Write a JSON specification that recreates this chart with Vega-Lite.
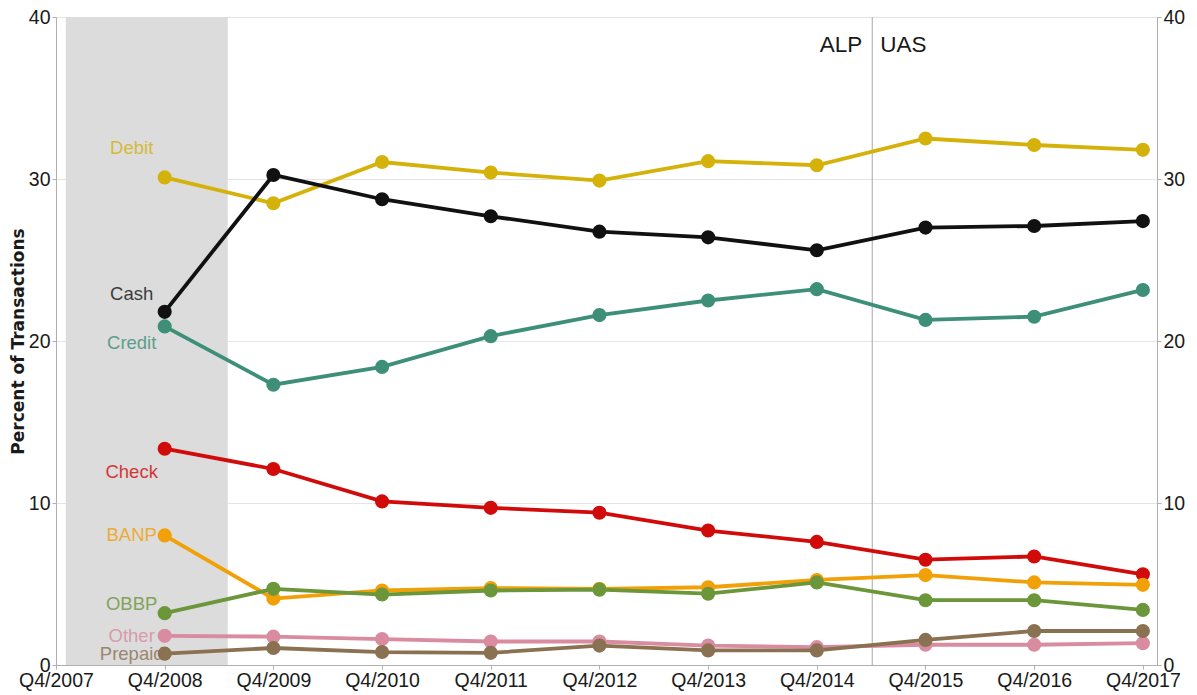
{
  "$schema": "https://vega.github.io/schema/vega-lite/v6.json",
  "width": 1101,
  "height": 648,
  "autosize": {"type": "none"},
  "padding": {"left": 56, "top": 17, "right": 40, "bottom": 30},
  "background": "white",
  "config": {
    "font": "Liberation Sans",
    "view": {"stroke": "#b8b8b8", "strokeWidth": 1},
    "axis": {
      "domainColor": "#b0b0b0",
      "tickColor": "#b0b0b0",
      "tickSize": 4,
      "labelFontSize": 19.5,
      "labelColor": "#1a1a1a",
      "labelPadding": 2,
      "gridColor": "#e4e4e4"
    }
  },
  "datasets": {
    "series": [
      {"year": 2008, "series": "Debit", "value": 30.1},
      {"year": 2009, "series": "Debit", "value": 28.5},
      {"year": 2010, "series": "Debit", "value": 31.05},
      {"year": 2011, "series": "Debit", "value": 30.4},
      {"year": 2012, "series": "Debit", "value": 29.9},
      {"year": 2013, "series": "Debit", "value": 31.1},
      {"year": 2014, "series": "Debit", "value": 30.85},
      {"year": 2015, "series": "Debit", "value": 32.5},
      {"year": 2016, "series": "Debit", "value": 32.1},
      {"year": 2017, "series": "Debit", "value": 31.8},
      {"year": 2008, "series": "Cash", "value": 21.8},
      {"year": 2009, "series": "Cash", "value": 30.25},
      {"year": 2010, "series": "Cash", "value": 28.75},
      {"year": 2011, "series": "Cash", "value": 27.7},
      {"year": 2012, "series": "Cash", "value": 26.75},
      {"year": 2013, "series": "Cash", "value": 26.4},
      {"year": 2014, "series": "Cash", "value": 25.6},
      {"year": 2015, "series": "Cash", "value": 27.0},
      {"year": 2016, "series": "Cash", "value": 27.1},
      {"year": 2017, "series": "Cash", "value": 27.4},
      {"year": 2008, "series": "Credit", "value": 20.9},
      {"year": 2009, "series": "Credit", "value": 17.3},
      {"year": 2010, "series": "Credit", "value": 18.4},
      {"year": 2011, "series": "Credit", "value": 20.3},
      {"year": 2012, "series": "Credit", "value": 21.6},
      {"year": 2013, "series": "Credit", "value": 22.5},
      {"year": 2014, "series": "Credit", "value": 23.2},
      {"year": 2015, "series": "Credit", "value": 21.3},
      {"year": 2016, "series": "Credit", "value": 21.5},
      {"year": 2017, "series": "Credit", "value": 23.15},
      {"year": 2008, "series": "Check", "value": 13.35},
      {"year": 2009, "series": "Check", "value": 12.1},
      {"year": 2010, "series": "Check", "value": 10.1},
      {"year": 2011, "series": "Check", "value": 9.7},
      {"year": 2012, "series": "Check", "value": 9.4},
      {"year": 2013, "series": "Check", "value": 8.3},
      {"year": 2014, "series": "Check", "value": 7.6},
      {"year": 2015, "series": "Check", "value": 6.5},
      {"year": 2016, "series": "Check", "value": 6.7},
      {"year": 2017, "series": "Check", "value": 5.6},
      {"year": 2008, "series": "BANP", "value": 8.0},
      {"year": 2009, "series": "BANP", "value": 4.1},
      {"year": 2010, "series": "BANP", "value": 4.6},
      {"year": 2011, "series": "BANP", "value": 4.75},
      {"year": 2012, "series": "BANP", "value": 4.7},
      {"year": 2013, "series": "BANP", "value": 4.8},
      {"year": 2014, "series": "BANP", "value": 5.25},
      {"year": 2015, "series": "BANP", "value": 5.55},
      {"year": 2016, "series": "BANP", "value": 5.1},
      {"year": 2017, "series": "BANP", "value": 4.95},
      {"year": 2008, "series": "OBBP", "value": 3.2},
      {"year": 2009, "series": "OBBP", "value": 4.7},
      {"year": 2010, "series": "OBBP", "value": 4.35},
      {"year": 2011, "series": "OBBP", "value": 4.6},
      {"year": 2012, "series": "OBBP", "value": 4.65},
      {"year": 2013, "series": "OBBP", "value": 4.4},
      {"year": 2014, "series": "OBBP", "value": 5.1},
      {"year": 2015, "series": "OBBP", "value": 4.0},
      {"year": 2016, "series": "OBBP", "value": 4.0},
      {"year": 2017, "series": "OBBP", "value": 3.4},
      {"year": 2008, "series": "Other", "value": 1.8},
      {"year": 2009, "series": "Other", "value": 1.75},
      {"year": 2010, "series": "Other", "value": 1.6},
      {"year": 2011, "series": "Other", "value": 1.45},
      {"year": 2012, "series": "Other", "value": 1.45},
      {"year": 2013, "series": "Other", "value": 1.2},
      {"year": 2014, "series": "Other", "value": 1.1},
      {"year": 2015, "series": "Other", "value": 1.25},
      {"year": 2016, "series": "Other", "value": 1.25},
      {"year": 2017, "series": "Other", "value": 1.35},
      {"year": 2008, "series": "Prepaid", "value": 0.7},
      {"year": 2009, "series": "Prepaid", "value": 1.05},
      {"year": 2010, "series": "Prepaid", "value": 0.8},
      {"year": 2011, "series": "Prepaid", "value": 0.75},
      {"year": 2012, "series": "Prepaid", "value": 1.2},
      {"year": 2013, "series": "Prepaid", "value": 0.9},
      {"year": 2014, "series": "Prepaid", "value": 0.9},
      {"year": 2015, "series": "Prepaid", "value": 1.55},
      {"year": 2016, "series": "Prepaid", "value": 2.1},
      {"year": 2017, "series": "Prepaid", "value": 2.1}
    ],
    "labels": [
      {"series": "Debit", "year": 2008, "pos": 31.9},
      {"series": "Cash", "year": 2008, "pos": 22.9},
      {"series": "Credit", "year": 2008, "pos": 19.9},
      {"series": "Check", "year": 2008, "pos": 11.9},
      {"series": "BANP", "year": 2008, "pos": 8.0},
      {"series": "OBBP", "year": 2008, "pos": 3.75},
      {"series": "Other", "year": 2008, "pos": 1.8},
      {"series": "Prepaid", "year": 2008, "pos": 0.7}
    ],
    "shade": [{"start": 2007.09, "end": 2008.58}],
    "events": [{"x": 2014.51, "y": 38.3, "before": "ALP", "after": "UAS"}]
  },
  "layer": [
    {
      "data": {"name": "shade"},
      "mark": {"type": "rect", "color": "#dcdcdc"},
      "encoding": {
        "x": {"field": "start", "type": "quantitative", "title": null},
        "x2": {"field": "end"}
      }
    },
    {
      "data": {"name": "events"},
      "mark": {"type": "rule", "color": "#a8a8a8", "strokeWidth": 1},
      "encoding": {
        "x": {"field": "x", "type": "quantitative", "title": null}
      }
    },
    {
      "data": {"name": "events"},
      "mark": {"type": "text", "align": "right", "baseline": "middle", "dx": -10, "fontSize": 22.5, "color": "#1a1a1a"},
      "encoding": {
        "x": {"field": "x", "type": "quantitative", "title": null},
        "y": {"field": "y", "type": "quantitative", "axis": null},
        "text": {"field": "before"}
      }
    },
    {
      "data": {"name": "events"},
      "mark": {"type": "text", "align": "left", "baseline": "middle", "dx": 8, "fontSize": 22.5, "color": "#1a1a1a"},
      "encoding": {
        "x": {"field": "x", "type": "quantitative", "title": null},
        "y": {"field": "y", "type": "quantitative", "axis": null},
        "text": {"field": "after"}
      }
    },
    {
      "data": {"name": "series"},
      "mark": {"type": "line", "strokeWidth": 3.8},
      "encoding": {
        "x": {
          "field": "year", "type": "quantitative", "title": null,
          "scale": {"domain": [2007, 2017.13], "nice": false, "zero": false},
          "axis": {"values": [2007, 2008, 2009, 2010, 2011, 2012, 2013, 2014, 2015, 2016, 2017], "labelExpr": "'Q4/' + datum.value", "grid": false, "labelFlush": false, "labelOverlap": false}
        },
        "y": {
          "field": "value", "type": "quantitative",
          "scale": {"domain": [0, 40], "nice": false},
          "axis": {"orient": "left", "values": [0, 10, 20, 30, 40], "grid": true, "title": "Percent of Transactions", "titleFont": "DejaVu Sans", "titleFontSize": 17, "titleFontWeight": "bold", "titleColor": "#1a1a1a", "titlePadding": 1, "labelFlush": false}
        },
        "color": {
          "field": "series", "type": "nominal", "legend": null,
          "scale": {
            "domain": ["Debit", "Cash", "Credit", "Check", "BANP", "OBBP", "Other", "Prepaid"],
            "range": ["#d4b20a", "#111111", "#3d8f78", "#d10a0a", "#f2a007", "#6b963a", "#d98ba0", "#8a7152"]
          }
        },
        "detail": {"field": "series"}
      }
    },
    {
      "data": {"name": "labels"},
      "mark": {"type": "text", "align": "center", "baseline": "middle", "dx": -33, "fontSize": 18.5, "opacity": 0.8},
      "encoding": {
        "x": {"field": "year", "type": "quantitative", "title": null},
        "y": {"field": "pos", "type": "quantitative", "axis": null},
        "color": {"field": "series", "type": "nominal", "legend": null},
        "text": {"field": "series"}
      }
    },
    {
      "data": {"name": "series"},
      "mark": {"type": "circle", "size": 200, "opacity": 1},
      "encoding": {
        "x": {"field": "year", "type": "quantitative", "title": null},
        "y": {
          "field": "value", "type": "quantitative",
          "axis": {"orient": "right", "values": [0, 10, 20, 30, 40], "grid": false, "title": null, "labelFlush": false}
        },
        "color": {"field": "series", "type": "nominal", "legend": null}
      }
    }
  ],
  "resolve": {"scale": {"y": "shared", "x": "shared", "color": "shared"}, "axis": {"y": "independent"}}
}
